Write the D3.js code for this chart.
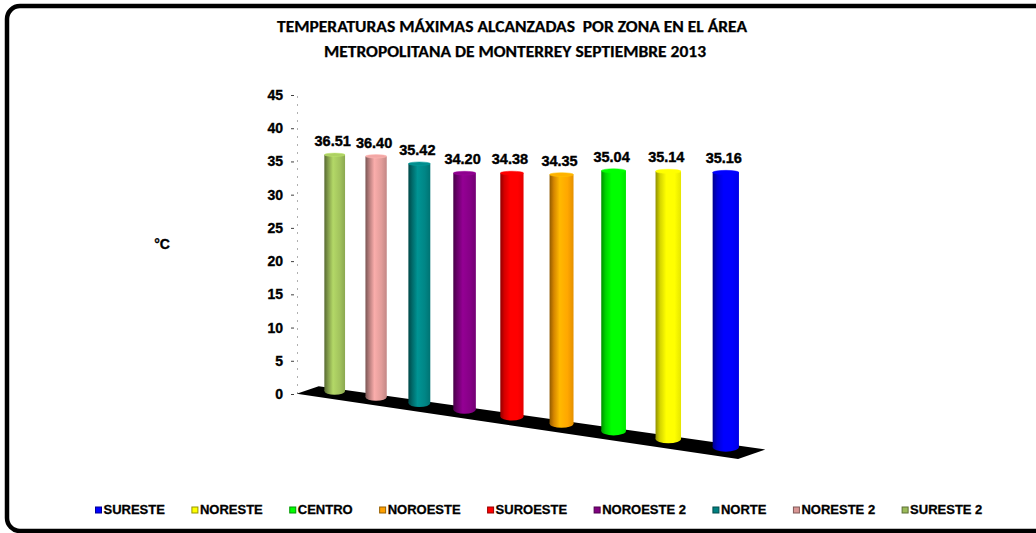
<!DOCTYPE html>
<html>
<head>
<meta charset="utf-8">
<script src="https://cdn.jsdelivr.net/npm/d3@7"></script>
<style>
  body { margin: 0; background: #fff; }
  svg { display: block; }
</style>
</head>
<body>
<div id="chart"></div>
<script>
// zones in drawing order (back/left to front/right)
var zones = ["SURESTE 2", "NORESTE 2", "NORTE", "NOROESTE 2", "SUROESTE", "NOROESTE", "CENTRO", "NORESTE", "SURESTE"];
var temps = [36.51, 36.40, 35.42, 34.20, 34.38, 34.35, 35.04, 35.14, 35.16];
var zoneColors = ["#9bbb59", "#d99694", "#008080", "#800080", "#ff0000", "#ffa000", "#00ff00", "#ffff00", "#0000ff"];
var legendZones = ["SURESTE", "NORESTE", "CENTRO", "NOROESTE", "SUROESTE", "NOROESTE 2", "NORTE", "NORESTE 2", "SURESTE 2"];
var yTicks = [0, 5, 10, 15, 20, 25, 30, 35, 40, 45];
var titleLines = ["TEMPERATURAS MÁXIMAS ALCANZADAS  POR ZONA EN EL ÁREA", "METROPOLITANA DE MONTERREY SEPTIEMBRE 2013"];
var unitLabel = "°C";

var w = 1036;
var h = 533;
var yMax = 45;
var font = "'Liberation Sans', Arimo, Arial, sans-serif";

var svg = d3.select("#chart")
  .append("svg")
  .attr("width", w)
  .attr("height", h);

var defs = svg.append("defs");

var colorOf = d3.scaleOrdinal().domain(zones).range(zoneColors);

// frame
svg.append("rect")
  .attr("x", 7)
  .attr("y", 6)
  .attr("width", 1060)
  .attr("height", 525)
  .attr("rx", 13)
  .attr("ry", 13)
  .style("fill", "none")
  .style("stroke", "#000")
  .style("stroke-width", 4.5);

// title
svg.append("g")
  .selectAll("text")
  .data(titleLines)
  .enter()
    .append("text")
    .attr("x", function(d, i) { return i === 0 ? 512 : 515; })
    .attr("y", function(d, i) { return 32 + i * 25; })
    .attr("text-anchor", "middle")
    .attr("textLength", function(d, i) { return i === 0 ? 470 : 382; })
    .attr("lengthAdjust", "spacingAndGlyphs")
    .style("white-space", "pre")
    .style("font-family", "Carlito, 'Liberation Sans Narrow', 'Open Sans', sans-serif")
    .style("font-weight", "bold")
    .style("font-size", "16px")
    .style("fill", "#000")
    .style("stroke", "#000")
    .style("stroke-width", 0.25)
    .text(function(d) { return d; });

// y axis (back wall)
var y = d3.scaleLinear()
  .domain([0, yMax])
  .range([394, 95]);

svg.append("line")
  .attr("x1", 297.5)
  .attr("x2", 297.5)
  .attr("y1", y(0))
  .attr("y2", y(yMax))
  .style("stroke", "#b0b0b0")
  .style("stroke-width", 1)
  .style("stroke-dasharray", "2,6");

var yAxis = svg.append("g")
  .attr("transform", "translate(294,0)")
  .call(d3.axisLeft(y).tickValues(yTicks).tickSize(3).tickPadding(8).tickFormat(d3.format("d")));

yAxis.select(".domain").remove();
yAxis.selectAll(".tick line").style("stroke", "#404040");
yAxis.selectAll(".tick text")
  .style("font-family", font)
  .style("font-weight", "bold")
  .style("font-size", "14px")
  .style("fill", "#000")
  .style("stroke", "#000")
  .style("stroke-width", 0.35);

svg.append("text")
  .attr("x", 162)
  .attr("y", 249)
  .attr("text-anchor", "middle")
  .style("font-family", font)
  .style("font-weight", "bold")
  .style("font-size", "14px")
  .style("stroke", "#000")
  .style("stroke-width", 0.35)
  .text(unitLabel);

// perspective: each row index sits at a relative distance, k = pixels per degree there
var n = temps.length;
var k0 = 6.47;
var depth = d3.scaleLinear().domain([0, n - 1]).range([1, 0.8286]);
function kAt(i) { return k0 / depth(i); }
var kEnd = kAt(n - 1);
var px = d3.scaleLinear().domain([k0, kEnd]).range([334.7, 725.8]);
var py = d3.scaleLinear().domain([k0, kEnd]).range([391, 447]);
var pw = d3.scaleLinear().domain([k0, kEnd]).range([20.7, 26.3]);

// floor
var floorFrom = kAt(-0.68);
var floorTo = kAt(8.43);
function floorPt(k, side) {
  return side === "back"
    ? [px(k) + 1.75 * k, py(k) - 0.15 * k]
    : [px(k) - 1.7 * k, py(k) + 1.05 * k];
}
var floorPts = [floorPt(floorFrom, "front"), floorPt(floorFrom, "back"), floorPt(floorTo, "back"), floorPt(floorTo, "front")];

svg.append("path")
  .attr("d", d3.line()(floorPts) + "Z")
  .style("fill", "#000");

// bars
var bars = zones.map(function(z, i) {
  var k = kAt(i);
  var hs = d3.scaleLinear().domain([0, yMax]).range([0, yMax * k]);
  var bw = pw(k);
  var base = py(k);
  return {
    zone: z,
    value: temps[i],
    color: colorOf(z),
    cx: px(k),
    bw: bw,
    base: base,
    top: base - hs(temps[i]),
    ryb: bw * 0.18,
    ryt: bw * 0.08
  };
});

bars.forEach(function(d, i) {
  var c = d3.color(d.color);
  var g = defs.append("linearGradient")
    .attr("id", "cyl" + i)
    .attr("x1", "0").attr("x2", "1").attr("y1", "0").attr("y2", "0");
  g.append("stop").attr("offset", "0%").attr("stop-color", c.darker(1.6));
  g.append("stop").attr("offset", "18%").attr("stop-color", c.darker(0.5));
  g.append("stop").attr("offset", "42%").attr("stop-color", c.brighter(0.4));
  g.append("stop").attr("offset", "75%").attr("stop-color", c.brighter(0.12));
  g.append("stop").attr("offset", "100%").attr("stop-color", c.darker(0.3));
});

var barG = svg.append("g")
  .selectAll("g")
  .data(bars)
  .enter()
    .append("g");

barG.append("ellipse")
  .attr("cx", function(d) { return d.cx; })
  .attr("cy", function(d) { return d.base; })
  .attr("rx", function(d) { return d.bw / 2; })
  .attr("ry", function(d) { return d.ryb; })
  .style("fill", function(d, i) { return "url(#cyl" + i + ")"; });

barG.append("rect")
  .attr("x", function(d) { return d.cx - d.bw / 2; })
  .attr("y", function(d) { return d.top; })
  .attr("width", function(d) { return d.bw; })
  .attr("height", function(d) { return d.base - d.top; })
  .style("fill", function(d, i) { return "url(#cyl" + i + ")"; });

barG.append("ellipse")
  .attr("cx", function(d) { return d.cx; })
  .attr("cy", function(d) { return d.top; })
  .attr("rx", function(d) { return d.bw / 2; })
  .attr("ry", function(d) { return d.ryt; })
  .style("fill", function(d) { return d3.color(d.color).brighter(0.3); })
  .style("stroke", function(d) { return d3.color(d.color).brighter(0.6); })
  .style("stroke-width", 0.5);

barG.append("text")
  .attr("x", function(d) { return d.cx - 2; })
  .attr("y", function(d) { return d.top - d.ryt - 7; })
  .attr("text-anchor", "middle")
  .style("font-family", font)
  .style("font-weight", "bold")
  .style("font-size", "14.5px")
  .style("fill", "#000")
  .style("stroke", "#000")
  .style("stroke-width", 0.4)
  .text(function(d) { return d.value.toFixed(2); });

// legend
var legend = svg.append("g")
  .attr("transform", "translate(95,0)");

var lx = 0;
legendZones.forEach(function(z) {
  var item = legend.append("g").attr("transform", "translate(" + lx + ",0)");
  var c = d3.color(colorOf(z));
  item.append("rect")
    .attr("x", 0.5)
    .attr("y", 507)
    .attr("width", 6)
    .attr("height", 6)
    .style("fill", c)
    .style("stroke", c.darker(1.5))
    .style("stroke-width", 1);
  var t = item.append("text")
    .attr("x", 8.5)
    .attr("y", 514)
    .style("font-family", font)
    .style("font-weight", "bold")
    .style("font-size", "13px")
    .style("fill", "#000")
    .style("stroke", "#000")
    .style("stroke-width", 0.3)
    .text(z);
  lx += 8.5 + t.node().getComputedTextLength() + 26.5;
});
</script>
</body>
</html>
